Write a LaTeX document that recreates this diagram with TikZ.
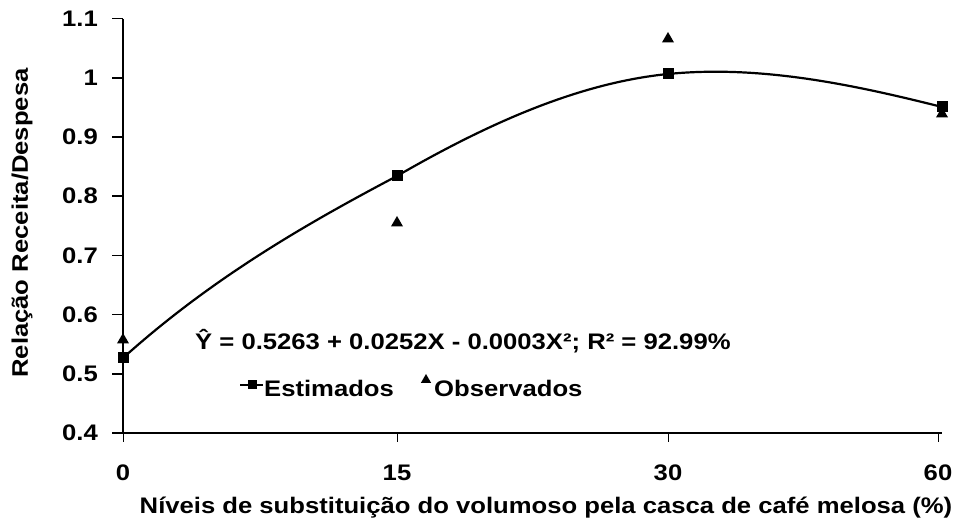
\documentclass[tikz,border=0pt]{standalone}
\usepackage{fontspec}
\setmainfont{Liberation Sans}[FakeStretch=1.14]
\usetikzlibrary{shapes.geometric}

\tikzset{
  lbl/.style={font=\fontsize{22.5}{27}\selectfont\bfseries, inner sep=0pt},
  sqmark/.style={fill=black, minimum size=11pt, inner sep=0pt},
  trimark/.style={regular polygon, regular polygon sides=3, fill=black, minimum size=14pt, inner sep=0pt},
}

\begin{document}
\begin{tikzpicture}[x=1pt,y=1pt]
  \useasboundingbox (0,0) rectangle (958,530);

  % Axes
  \coordinate (o) at (123,97);
  \coordinate (ytop) at (123,511);
  \coordinate (xend) at (942,97);
  \draw[line width=2.6pt] (ytop) -- (o) -- (xend);

  % y ticks and numbers
  \foreach \v [count=\i from 0] in {0.4,0.5,0.6,0.7,0.8,0.9,1,1.1} {
    \draw[line width=1.6pt] (112,97+59.2*\i) -- (123,97+59.2*\i);
    \node[lbl, anchor=east] (y\i) at (98,97+59.2*\i) {\v};
  }

  % x ticks and numbers
  \foreach \x/\t in {123/0,397/15,668/30,938/60} {
    \draw[line width=0.6pt] (\x,97) -- (\x,88);
    \node[lbl] (x\t) at (\x,57) {\t};
  }

  % Axis titles
  \node[lbl] (xtitle) at (546,22) {Níveis de substituição do volumoso pela casca de café melosa (\%)};
  \node[lbl, rotate=90] (ytitle) at (22,307) {Relação Receita/Despesa};

  % Fitted curve
  \draw[line width=2.2pt] (123,172) .. controls (212,252) and (306,306) .. (397,354)
    .. controls (487,406) and (578,447) .. (668,456)
    .. controls (759,465) and (851,446) .. (942,423);

  % Observados
  \node[trimark] (t0) at (123,190) {};
  \node[trimark] (t15) at (397,307) {};
  \node[trimark] (t30) at (668,491) {};
  \node[trimark] (t60) at (942,416) {};

  % Estimados
  \node[sqmark] (s0) at (123,172) {};
  \node[sqmark] (s15) at (397,354) {};
  \node[sqmark] (s30) at (668,456) {};
  \node[sqmark] (s60) at (942,423) {};

  % Equation
  \node[lbl, anchor=base west] (eq) at (195,180) {\^{Y} = 0.5263 + 0.0252X - 0.0003X²; R² = 92.99\%};

  % Legend
  \coordinate (la) at (240,145);
  \coordinate (lb) at (263,145);
  \draw[line width=2.2pt] (la) -- (lb);
  \node[sqmark, minimum size=9pt] (lsq) at (252,145) {};
  \node[lbl, anchor=west] (lest) at (264,142) {Estimados};
  \node[trimark, minimum size=12pt] (ltri) at (426,150) {};
  \node[lbl, anchor=west] (lobs) at (434,142) {Observados};
\end{tikzpicture}
\end{document}
